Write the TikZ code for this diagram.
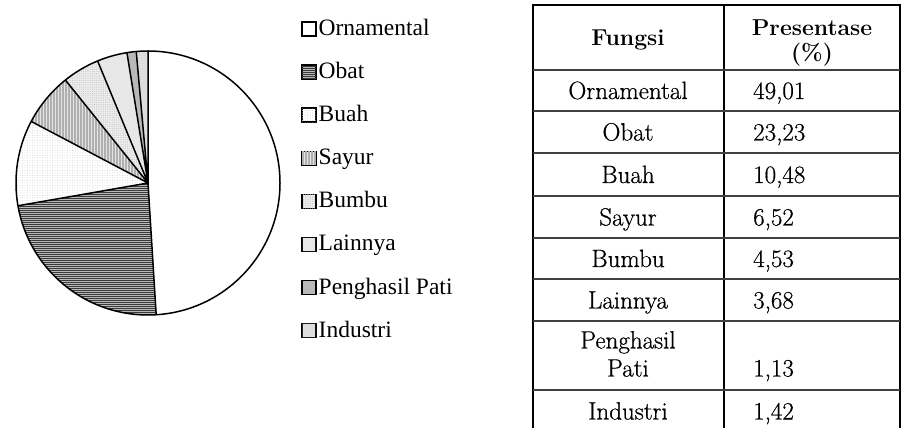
\documentclass[tikz,border=0pt]{standalone}
\usepackage{fontspec}
\newfontfamily\legendfont{Liberation Serif}
\newfontfamily\tabfont{Latin Modern Roman}[FakeBold=0.6]
\usetikzlibrary{patterns.meta}

\tikzset{
    orn/.style={fill=white},
    obat/.style={fill=gray!55, postaction={pattern={Lines[angle=0,distance=2pt,line width=0.5pt]}, pattern color=gray!45!black}},
    buah/.style={fill=white, postaction={pattern={Dots[radius=0.5pt,distance=2.5pt]}, pattern color=gray!35}},
    sayur/.style={fill=gray!22, postaction={pattern={Lines[angle=90,distance=3pt,line width=1.2pt]}, pattern color=gray!62}},
    bumbu/.style={fill=gray!14, postaction={pattern={Dots[radius=0.6pt,distance=2.2pt]}, pattern color=gray!45}},
    lain/.style={fill=gray!17, postaction={pattern={Dots[radius=0.4pt,distance=2pt]}, pattern color=gray!35}},
    pati/.style={fill=gray!55},
    indus/.style={fill=gray!22, postaction={pattern={Dots[radius=0.5pt,distance=2pt]}, pattern color=gray!50}},
    legsq/.style={draw, line width=1.4pt, minimum size=14pt, inner sep=0pt},
    legtxt/.style={anchor=base west, inner sep=0pt, font=\legendfont\fontsize{23.5}{26}\selectfont},
    cell/.style={anchor=base, inner sep=0pt, font=\tabfont\fontsize{25}{28}\selectfont},
    numcell/.style={anchor=base west, inner sep=0pt, font=\tabfont\fontsize{25}{28}\selectfont},
    headcell/.style={anchor=base, inner sep=0pt, font=\bfseries\fontsize{23}{26}\selectfont},
    rule/.style={line width=1.3pt}
}

\begin{document}
\begin{tikzpicture}[x=1pt, y=1pt]
\useasboundingbox (0,0) rectangle (904,428);

% pie
\coordinate (pc) at (148,245);
\fill[orn] (pc) -- ++(90:132) arc[start angle=90, end angle=-86.436, radius=132] -- cycle;
\fill[obat] (pc) -- ++(-86.436:132) arc[start angle=-86.436, end angle=-170.064, radius=132] -- cycle;
\fill[buah] (pc) -- ++(-170.064:132) arc[start angle=-170.064, end angle=-207.792, radius=132] -- cycle;
\fill[sayur] (pc) -- ++(-207.792:132) arc[start angle=-207.792, end angle=-231.264, radius=132] -- cycle;
\fill[bumbu] (pc) -- ++(-231.264:132) arc[start angle=-231.264, end angle=-247.572, radius=132] -- cycle;
\fill[lain] (pc) -- ++(-247.572:132) arc[start angle=-247.572, end angle=-260.82, radius=132] -- cycle;
\fill[pati] (pc) -- ++(-260.82:132) arc[start angle=-260.82, end angle=-264.888, radius=132] -- cycle;
\fill[indus] (pc) -- ++(-264.888:132) arc[start angle=-264.888, end angle=-270, radius=132] -- cycle;

\draw[line width=1.5pt] (pc) circle[radius=132];
\draw[line width=1.5pt, line join=round]
    (pc) -- ++(90:132) (pc) -- ++(-86.436:132) (pc) -- ++(-170.064:132)
    (pc) -- ++(-207.792:132) (pc) -- ++(-231.264:132) (pc) -- ++(-247.572:132)
    (pc) -- ++(-260.82:132) (pc) -- ++(-264.888:132);

% legend
\node[legsq, orn] (q1) at (309,399) {};
\node[legsq, obat] (q2) at (309,355.9) {};
\node[legsq, buah] (q3) at (309,312.8) {};
\node[legsq, sayur] (q4) at (309,269.7) {};
\node[legsq, bumbu] (q5) at (309,226.6) {};
\node[legsq, lain] (q6) at (309,183.5) {};
\node[legsq, pati] (q7) at (309,140.4) {};
\node[legsq, indus] (q8) at (309,97.3) {};

\node[legtxt] (t1) at (318.5,392.5) {Ornamental};
\node[legtxt] (t2) at (318.5,349.4) {Obat};
\node[legtxt] (t3) at (318.5,306.3) {Buah};
\node[legtxt] (t4) at (318.5,263.2) {Sayur};
\node[legtxt] (t5) at (318.5,220.1) {Bumbu};
\node[legtxt] (t6) at (318.5,177) {Lainnya};
\node[legtxt] (t7) at (318.5,133.9) {Penghasil Pati};
\node[legtxt] (t8) at (318.5,90.8) {Industri};

% table
\draw[rule] (533,0) -- (533,423) -- (900,423) -- (900,0);
\draw[rule] (724,0) -- (724,423);
\draw[rule, black!75] (533,358) -- (900,358) (533,317) -- (900,317)
    (533,275) -- (900,275) (533,232) -- (900,232) (533,190) -- (900,190)
    (533,149) -- (900,149) (533,107) -- (900,107) (533,38) -- (900,38);

\node[headcell] (hf) at (628,382) {Fungsi};
\node[headcell] (hp) at (812,392) {Presentase};
\node[headcell] (hq) at (812,367) {(\%)};

\node[cell] (f1) at (628,329) {Ornamental};
\node[cell] (f2) at (628,287.5) {Obat};
\node[cell] (f3) at (628,245) {Buah};
\node[cell] (f4) at (628,202.5) {Sayur};
\node[cell] (f5) at (628,161) {Bumbu};
\node[cell] (f6) at (628,119.5) {Lainnya};
\node[cell] (f7) at (628,79.5) {Penghasil};
\node[cell] (f7b) at (628,51.5) {Pati};
\node[cell] (f8) at (628,8.5) {Industri};

\node[numcell] (p1) at (753,329) {49,01};
\node[numcell] (p2) at (753,287.5) {23,23};
\node[numcell] (p3) at (753,245) {10,48};
\node[numcell] (p4) at (753,202.5) {6,52};
\node[numcell] (p5) at (753,161) {4,53};
\node[numcell] (p6) at (753,119.5) {3,68};
\node[numcell] (p7) at (753,51.5) {1,13};
\node[numcell] (p8) at (753,8.5) {1,42};
\end{tikzpicture}
\end{document}
